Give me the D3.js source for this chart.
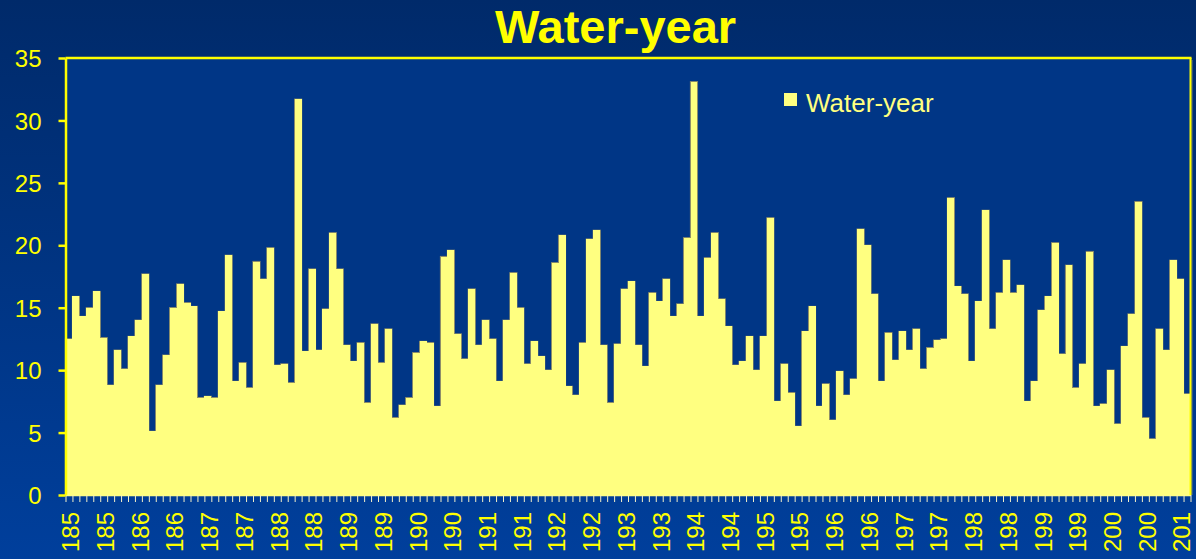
<!DOCTYPE html>
<html>
<head>
<meta charset="utf-8">
<script src="https://cdn.jsdelivr.net/npm/d3@7"></script>
<style>
  html, body { margin: 0; padding: 0; background: #002d70; }
  svg { display: block; }
  text { font-family: "Liberation Sans", Arial, sans-serif; }
</style>
</head>
<body>
<svg id="chart" width="1196" height="559"></svg>
<script>
// ---- data ----
const startYear = 1850;
const values = [
  12.5,15.9,14.3,15.0,16.3,12.6,8.8,11.6,10.1,12.7,
  14.0,17.7,5.1,8.8,11.2,15.0,16.9,15.4,15.1,7.8,
  7.9,7.8,14.7,19.2,9.1,10.6,8.6,18.7,17.3,19.8,
  10.4,10.5,9.0,31.7,11.5,18.1,11.6,14.9,21.0,18.1,
  12.0,10.7,12.2,7.4,13.7,10.6,13.3,6.2,7.2,7.8,
  11.4,12.3,12.2,7.1,19.1,19.6,12.9,10.9,16.5,12.0,
  14.0,12.5,9.1,14.0,17.8,15.0,10.5,12.3,11.1,10.0,
  18.6,20.8,8.7,8.0,12.2,20.5,21.2,12.0,7.4,12.1,
  16.5,17.1,12.0,10.3,16.2,15.5,17.3,14.3,15.3,20.6,
  33.1,14.3,19.0,21.0,15.7,13.5,10.4,10.7,12.7,10.0,
  12.7,22.2,7.5,10.5,8.2,5.5,13.1,15.1,7.1,8.9,
  6.0,9.9,8.0,9.3,21.3,20.0,16.1,9.1,13.0,10.8,
  13.1,11.6,13.3,10.1,11.8,12.4,12.5,23.8,16.7,16.1,
  10.7,15.5,22.8,13.3,16.2,18.8,16.2,16.8,7.5,9.1,
  14.8,15.9,20.2,11.3,18.4,8.6,10.5,19.5,7.1,7.3,
  10.0,5.7,11.9,14.5,23.5,6.2,4.5,13.3,11.6,18.8,
  17.3,8.1
];
const years = values.map((v, i) => startYear + i);
const tickYears = [1850,1855,1860,1865,1870,1875,1880,1885,1890,1895,1900,1905,1910,1915,1920,1925,
  1930,1935,1940,1945,1950,1955,1960,1965,1970,1975,1980,1985,1990,1995,2000,2005,2010];
const tickLabels = ["185","185","186","186","187","187","188","188","189","189","190","190","191","191",
  "192","192","193","193","194","194","195","195","196","196","197","197","198","198","199","199",
  "200","200","201"];
const yTicks = [0,5,10,15,20,25,30,35];
const title = "Water-year";
const seriesName = "Water-year";

// ---- layout ----
const W = 1196, H = 559;
const pLeft = 65.5, pRight = 1190.5, pTop = 58, pBottom = 495;

const svg = d3.select("#chart");
const defs = svg.append("defs");
const grad = defs.append("linearGradient").attr("id", "bg").attr("x1", 0).attr("y1", 0).attr("x2", 0).attr("y2", 1);
grad.append("stop").attr("offset", "0%").attr("stop-color", "#002a6a");
grad.append("stop").attr("offset", "100%").attr("stop-color", "#003f9c");
svg.append("rect").attr("width", W).attr("height", H).attr("fill", "url(#bg)");

const x = d3.scaleBand().domain(years).range([pLeft, pRight]).padding(0);
const xi = d3.scaleLinear().domain([0, years.length]).range([pLeft, pRight]);
const y = d3.scaleLinear().domain([0, 35]).range([pBottom, pTop]);

// plot area
svg.append("rect").attr("x", pLeft).attr("y", pTop).attr("width", pRight - pLeft).attr("height", pBottom - pTop)
  .attr("fill", "#003686");

// bar outlines (layer below), then fills on top so only exposed edges show
svg.append("g").selectAll("rect").data(values).join("rect")
  .attr("x", (d, i) => x(years[i]))
  .attr("y", d => y(d))
  .attr("width", x.bandwidth())
  .attr("height", d => pBottom - y(d))
  .attr("fill", "#ffff80")
  .attr("stroke", "#8e8e6a")
  .attr("stroke-width", 1.2);
svg.append("g").attr("shape-rendering", "crispEdges").selectAll("rect").data(values).join("rect")
  .attr("x", (d, i) => x(years[i]))
  .attr("y", d => y(d))
  .attr("width", x.bandwidth())
  .attr("height", d => pBottom - y(d))
  .attr("fill", "#ffff80");

// x tick marks at category boundaries
const xTickAxis = svg.append("g").attr("transform", `translate(0,${pBottom})`)
  .call(d3.axisBottom(xi).tickValues(d3.range(0, years.length + 1)).tickFormat("").tickSize(7).tickSizeOuter(0));
xTickAxis.select(".domain").attr("stroke", "#ffff80").attr("stroke-width", 1.5);
xTickAxis.selectAll(".tick line").attr("stroke", "#f4f0c8").attr("stroke-width", 1);

// x labels
const xLab = svg.append("g").attr("transform", `translate(0,${pBottom})`)
  .call(d3.axisBottom(x).tickValues(tickYears).tickSize(0)
    .tickFormat(d => tickLabels[tickYears.indexOf(d)]));
xLab.select(".domain").remove();
xLab.selectAll("text")
  .attr("transform", "rotate(-90)")
  .attr("x", -17).attr("y", 0).attr("dy", "0.43em")
  .attr("text-anchor", "end")
  .attr("fill", "#ffff00")
  .style("font-size", "24px");

// y axis
const yAx = svg.append("g").attr("transform", `translate(${pLeft},0)`)
  .call(d3.axisLeft(y).tickValues(yTicks).tickSize(7).tickPadding(17).tickSizeOuter(0));
yAx.select(".domain").attr("stroke", "#ffff00").attr("stroke-width", 2.5);
yAx.selectAll(".tick line").attr("stroke", "#ffff00").attr("stroke-width", 2.5);
yAx.selectAll("text").attr("fill", "#ffff00").style("font-size", "24px").attr("dy", "0.36em");

// plot border top/right
svg.append("line").attr("x1", pLeft).attr("x2", pRight + 1).attr("y1", pTop).attr("y2", pTop)
  .attr("stroke", "#ffff00").attr("stroke-width", 2.5);
svg.append("line").attr("x1", pRight + 1.5).attr("x2", pRight + 1.5).attr("y1", pTop + 2).attr("y2", pBottom)
  .attr("stroke", "#6a7a70").attr("stroke-width", 1);
svg.append("line").attr("x1", pRight).attr("x2", pRight).attr("y1", pTop).attr("y2", pBottom)
  .attr("stroke", "#ffff00").attr("stroke-width", 2);

// title
svg.append("text").attr("x", 615.5).attr("y", 43).attr("text-anchor", "middle")
  .attr("fill", "#ffff00").style("font-size", "47px").style("font-weight", "bold").text(title);

// legend
svg.append("rect").attr("x", 784).attr("y", 93).attr("width", 13).attr("height", 13).attr("fill", "#ffff80");
svg.append("text").attr("x", 806).attr("y", 112).attr("fill", "#ffff80")
  .style("font-size", "26px").text(seriesName);
</script>
</body>
</html>
